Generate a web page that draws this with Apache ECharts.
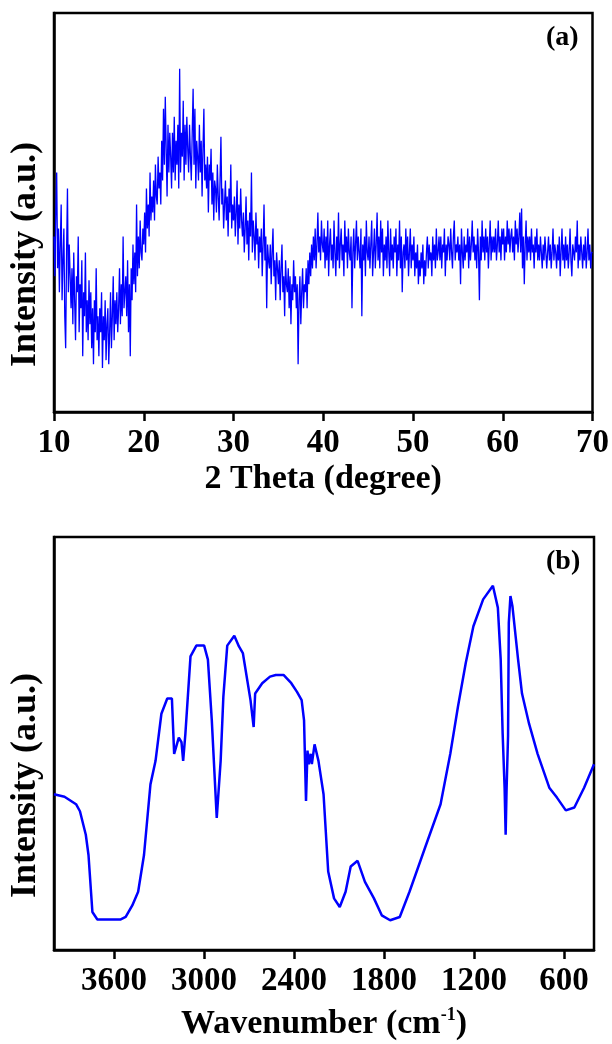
<!DOCTYPE html>
<html>
<head>
<meta charset="utf-8">
<script src="https://cdn.jsdelivr.net/npm/echarts@6/dist/echarts.min.js"></script>
<style>
  html, body { margin: 0; padding: 0; background: #fff; }
  #chart { width: 612px; height: 1044px; }
</style>
</head>
<body>
<div id="chart"></div>
<script>
// (a) XRD pattern, 2 theta from 10 to 70 in 0.1 degree steps
var xrdStart = 10;
var xrdStep = 0.1;
var xrdIntensity = [
  44, 34, 50, 60, 36, 46, 30, 42, 52, 28,
  38, 46, 24, 16, 40, 56, 30, 42, 34, 26,
  36, 22, 40, 28, 18, 34, 30, 44, 20, 32,
  26, 38, 14, 30, 24, 40, 20, 28, 18, 33,
  22, 30, 16, 26, 12, 28, 20, 36, 18, 24,
  14, 26, 20, 30, 11, 24, 18, 28, 13, 22,
  26, 12, 20, 30, 16, 24, 34, 18, 28, 22,
  30, 20, 26, 36, 22, 32, 24, 44, 26, 30,
  34, 24, 38, 20, 32, 14, 36, 28, 42, 32,
  40, 30, 52, 34, 44, 36, 48, 40, 38, 46,
  42, 50, 40, 56, 46, 52, 44, 60, 48, 54,
  50, 58, 48, 62, 54, 52, 64, 56, 60, 52,
  68, 58, 76, 62, 79, 66, 54, 72, 60, 70,
  64, 56, 70, 60, 74, 58, 68, 62, 72, 56,
  86, 60, 70, 64, 78, 58, 72, 62, 74, 66,
  60, 72, 64, 58, 70, 81, 62, 76, 56, 68,
  64, 58, 72, 60, 68, 54, 66, 76, 58, 62,
  56, 64, 50, 62, 58, 66, 52, 60, 48, 58,
  56, 50, 62, 54, 48, 58, 69, 52, 56, 46,
  52, 58, 48, 54, 44, 56, 50, 62, 46, 52,
  48, 54, 44, 50, 58, 42, 52, 46, 56, 48,
  44, 50, 40, 46, 54, 42, 48, 38, 50, 44,
  60, 40, 48, 44, 38, 50, 42, 46, 36, 44,
  40, 46, 34, 42, 52, 38, 44, 26, 42, 38,
  36, 42, 32, 40, 46, 34, 38, 28, 40, 36,
  32, 38, 28, 36, 42, 30, 34, 24, 38, 32,
  30, 36, 26, 34, 22, 32, 28, 38, 30, 34,
  26, 32, 12, 28, 34, 22, 30, 36, 26, 32,
  30, 36, 26, 38, 32, 40, 34, 42, 36, 44,
  38, 46, 36, 42, 50, 40, 44, 38, 48, 42,
  40, 46, 36, 44, 38, 48, 34, 42, 46, 38,
  42, 36, 48, 40, 34, 44, 38, 50, 36, 42,
  46, 38, 42, 34, 48, 40, 44, 36, 46, 40,
  38, 44, 26, 40, 46, 36, 42, 48, 38, 44,
  40, 36, 46, 24, 42, 38, 44, 34, 48, 40,
  38, 44, 36, 42, 48, 34, 40, 46, 36, 42,
  50, 38, 44, 36, 48, 40, 46, 34, 42, 38,
  44, 36, 48, 40, 34, 46, 38, 42, 36, 44,
  40, 46, 34, 42, 38, 48, 36, 44, 30, 40,
  42, 36, 46, 38, 44, 34, 40, 46, 36, 42,
  38, 44, 34, 40, 36, 42, 32, 38, 34, 40,
  36, 42, 32, 38, 34, 40, 44, 36, 42, 38,
  40, 34, 44, 38, 42, 36, 46, 38, 40, 44,
  38, 44, 36, 42, 40, 46, 34, 42, 38, 44,
  42, 38, 46, 40, 36, 44, 48, 38, 42, 40,
  44, 38, 42, 32, 46, 40, 36, 44, 38, 42,
  40, 46, 36, 44, 38, 42, 48, 40, 44, 38,
  42, 36, 46, 40, 28, 44, 38, 48, 40, 44,
  38, 46, 40, 44, 36, 42, 48, 38, 44, 40,
  44, 40, 46, 38, 42, 48, 40, 44, 38, 46,
  42, 46, 38, 44, 40, 48, 42, 46, 40, 44,
  46, 40, 44, 38, 48, 42, 46, 40, 44, 50,
  40, 51, 36, 44, 32, 42, 48, 38, 44, 40,
  44, 38, 46, 40, 42, 36, 44, 40, 46, 38,
  42, 38, 44, 40, 36, 42, 38, 44, 40, 36,
  40, 44, 38, 42, 36, 40, 46, 38, 42, 40,
  36, 42, 38, 44, 34, 40, 46, 38, 42, 36,
  44, 38, 42, 36, 40, 46, 38, 34, 42, 40,
  38, 44, 40, 48, 36, 42, 38, 44, 40, 36,
  42, 38, 44, 36, 40, 46, 38, 42, 36, 40,
  40
];
var xrdTicks = [10, 20, 30, 40, 50, 60, 70];

// (b) FTIR spectrum
var ftirWavenumber = [
  4000, 3930, 3853, 3827, 3788, 3770, 3744, 3711, 3555, 3522,
  3478, 3439, 3400, 3357, 3323, 3284, 3245, 3214, 3199, 3168,
  3150, 3139, 3124, 3090, 3051, 2999, 2974, 2948, 2915, 2902,
  2889, 2871, 2845, 2798, 2767, 2741, 2690, 2669, 2659, 2612,
  2560, 2522, 2470, 2418, 2380, 2349, 2333, 2320, 2310, 2302,
  2289, 2281, 2263, 2237, 2203, 2172, 2133, 2095, 2056, 2022,
  1976, 1927, 1867, 1815, 1759, 1695, 1630, 1527, 1423, 1358,
  1307, 1255, 1204, 1139, 1074, 1041, 1022, 1009, 996, 989,
  983, 973, 968, 957, 944, 906, 880, 833, 776, 698,
  647, 588, 531, 466, 400
];
var ftirIntensity = [
  37.7, 37.1, 35.3, 33.6, 27.9, 23.0, 9.2, 7.4, 7.4, 8.0,
  10.8, 14.1, 23.0, 40.1, 45.8, 57.2, 60.9, 60.9, 47.5, 51.4,
  50.3, 45.8, 52.4, 71.1, 73.7, 73.7, 70.3, 55.6, 32.0, 32.0,
  45.8, 61.3, 73.7, 76.1, 73.5, 71.9, 60.5, 54.0, 62.1, 64.6,
  66.2, 66.6, 66.6, 64.6, 62.5, 60.5, 55.6, 36.1, 48.3, 45.0,
  47.5, 45.0, 49.8, 45.8, 37.7, 19.0, 12.5, 10.4, 14.1, 20.2,
  21.6, 16.5, 12.5, 8.4, 7.2, 8.0, 14.1, 24.7, 35.3, 47.5,
  58.9, 69.5, 78.4, 84.9, 88.2, 82.9, 70.3, 52.4, 39.3, 27.9,
  38.6, 51.8, 79.2, 85.7, 83.3, 70.3, 62.1, 54.8, 47.5, 39.3,
  36.9, 33.8, 34.5, 39.3, 45.0
];
var ftirTicks = [3600, 3000, 2400, 1800, 1200, 600];

var xrdData = xrdIntensity.map(function (v, i) {
  return [+(xrdStart + i * xrdStep).toFixed(1), v];
});
var ftirData = ftirWavenumber.map(function (w, i) {
  return [w, ftirIntensity[i]];
});

var serif = '"Liberation Serif", "DejaVu Serif", serif';
var tickLabel = {
  color: '#000', fontFamily: serif, fontWeight: 'bold', fontSize: 33, margin: 15,
  formatter: function (v) { return String(v); }
};
var nameStyle = { color: '#000', fontFamily: serif, fontWeight: 'bold', fontSize: 34 };

var chart = echarts.init(document.getElementById('chart'));
var option = {
  animation: false,
  backgroundColor: '#fff',
  grid: [
    { left: 52, top: 13, width: 542, height: 399, show: true, borderColor: '#000', borderWidth: 2.5 },
    { left: 52, top: 537, width: 542, height: 413, show: true, borderColor: '#000', borderWidth: 2.5 }
  ],
  xAxis: [{
    gridIndex: 0,
    type: 'value',
    min: 10,
    max: 70,
    interval: 10,
    name: '2 Theta (degree)',
    nameLocation: 'middle',
    nameGap: 50,
    nameTextStyle: nameStyle,
    axisLine: { lineStyle: { color: '#000', width: 2.5 } },
    axisTick: { length: 9, lineStyle: { color: '#000', width: 2.5 } },
    axisLabel: tickLabel,
    splitLine: { show: false }
  }, {
    gridIndex: 1,
    type: 'value',
    min: 400,
    max: 4000,
    inverse: true,
    name: 'Wavenumber (cm{sup|-1})',
    nameLocation: 'middle',
    nameGap: 56,
    nameTextStyle: Object.assign({}, nameStyle, {
      rich: { sup: { fontFamily: serif, fontWeight: 'bold', fontSize: 18, verticalAlign: 'top', padding: [0, 0, 18, 0], color: '#000' } }
    }),
    axisLine: { lineStyle: { color: '#000', width: 2.5 } },
    axisTick: { length: 9, lineStyle: { color: '#000', width: 2.5 }, customValues: ftirTicks },
    axisLabel: Object.assign({}, tickLabel, { customValues: ftirTicks }),
    splitLine: { show: false }
  }],
  yAxis: [{
    gridIndex: 0,
    type: 'value',
    min: 0,
    max: 100,
    name: 'Intensity (a.u.)',
    nameLocation: 'middle',
    nameGap: 10,
    nameTextStyle: Object.assign({}, nameStyle, { fontSize: 36, padding: [0, 84, 0, 0] }),
    axisLine: { show: true, lineStyle: { color: '#000', width: 2.5 } },
    axisTick: { show: false },
    axisLabel: { show: false },
    splitLine: { show: false }
  }, {
    gridIndex: 1,
    type: 'value',
    min: 0,
    max: 100,
    name: 'Intensity (a.u.)',
    nameLocation: 'middle',
    nameGap: 10,
    nameTextStyle: Object.assign({}, nameStyle, { fontSize: 36, padding: [0, 84, 0, 0] }),
    axisLine: { show: true, lineStyle: { color: '#000', width: 2.5 } },
    axisTick: { show: false },
    axisLabel: { show: false },
    splitLine: { show: false }
  }],
  graphic: [
    { type: 'text', left: 546, top: 24, style: { text: '(a)', font: 'bold 28px ' + serif, fill: '#000' } },
    { type: 'text', left: 546, top: 548, style: { text: '(b)', font: 'bold 28px ' + serif, fill: '#000' } }
  ],
  series: [{
    type: 'line',
    xAxisIndex: 0,
    yAxisIndex: 0,
    data: xrdData,
    showSymbol: false,
    lineStyle: { color: '#0000ff', width: 1.3 }
  }, {
    type: 'line',
    xAxisIndex: 1,
    yAxisIndex: 1,
    data: ftirData,
    showSymbol: false,
    lineStyle: { color: '#0000ff', width: 2.5 }
  }]
};
chart.setOption(option);
</script>
</body>
</html>
